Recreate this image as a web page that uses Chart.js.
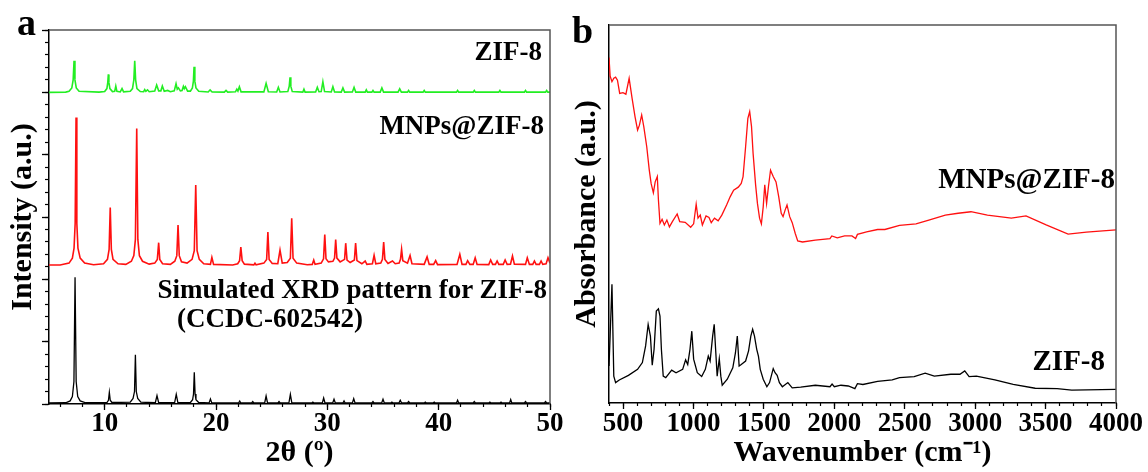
<!DOCTYPE html>
<html><head><meta charset="utf-8">
<script src="https://cdn.jsdelivr.net/npm/chart.js@4.4.1/dist/chart.umd.min.js"></script>
<style>
html,body{margin:0;padding:0;background:#fff;width:1148px;height:472px;overflow:hidden;}
#wrap{position:relative;width:1148px;height:472px;}
canvas{position:absolute;top:0;}
.lbl{position:absolute;font-family:"Liberation Serif","Times New Roman",serif;font-weight:bold;color:#000;line-height:1;white-space:nowrap;}
</style></head>
<body><div id="wrap">
<canvas id="ca" width="580" height="472" style="left:0;width:580px;height:472px"></canvas>
<canvas id="cb" width="588" height="472" style="left:560px;width:588px;height:472px"></canvas>
<div class="lbl" style="left:17px;top:3px;font-size:38px">a</div>
<div class="lbl" style="left:572px;top:11px;font-size:38px">b</div>
<div class="lbl" style="right:606px;top:38px;font-size:27px">ZIF-8</div>
<div class="lbl" style="right:604px;top:112px;font-size:27px">MNPs@ZIF-8</div>
<div class="lbl" style="right:601px;top:276px;font-size:27px">Simulated XRD pattern for ZIF-8</div>
<div class="lbl" style="left:177px;top:305px;font-size:27px">(CCDC-602542)</div>
<div class="lbl" style="right:33px;top:164px;font-size:29px">MNPs@ZIF-8</div>
<div class="lbl" style="right:43px;top:346px;font-size:29px">ZIF-8</div>
</div>
<script>
// ---------- Panel a: XRD ----------
const xrdZif8 = [
[5.0,25.0],[6.5,25.02],[6.8,25.08],[7.05,25.35],[7.17,26.0],[7.25,27.53],[7.33,26.0],[7.45,25.35],[7.7,25.08],
[9.5,25.02],[10.0,25.06],[10.2,25.3],[10.28,25.8],[10.33,26.44],[10.38,25.8],[10.47,25.3],[10.7,25.06],
[10.9,25.08],[11.0,25.5],[11.1,25.08],[11.4,25.03],[11.56,25.3],[11.7,25.04],
[12.3,25.08],[12.5,25.3],[12.62,26.0],[12.7,27.53],[12.78,26.0],[12.9,25.3],[13.2,25.06],
[13.5,25.05],[13.6,25.22],[13.7,25.08],[13.85,25.2],[14.0,25.05],
[14.5,25.1],[14.67,25.58],[14.85,25.12],[15.05,25.12],[15.18,25.5],[15.35,25.08],[15.66,25.15],[15.9,25.05],
[16.25,25.12],[16.41,25.69],[16.52,25.25],[16.62,25.36],[16.8,25.12],[16.95,25.15],[17.07,25.48],[17.15,25.3],[17.25,25.45],[17.45,25.1],
[17.7,25.1],[17.88,25.35],[17.97,25.9],[18.03,27.05],[18.1,25.9],[18.2,25.35],[18.45,25.08],
[19.3,25.03],[19.47,25.2],[19.65,25.03],[20.75,25.02],[20.9,25.15],[21.05,25.02],[21.75,25.04],[21.87,25.25],[21.97,25.1],[22.1,25.45],[22.25,25.04],
[24.3,25.04],[24.5,25.72],[24.7,25.05],[25.45,25.03],[25.6,25.4],[25.75,25.03],
[26.45,25.06],[26.58,25.5],[26.65,26.2],[26.72,25.5],[26.85,25.06],
[27.8,25.02],[27.9,25.25],[28.0,25.02],[28.95,25.03],[29.1,25.4],[29.25,25.05],[29.45,25.06],[29.6,25.85],[29.75,25.06],
[30.35,25.03],[30.5,25.45],[30.65,25.03],[31.25,25.02],[31.4,25.35],[31.55,25.02],[32.25,25.03],[32.4,25.4],[32.55,25.02],
[33.4,25.02],[33.5,25.2],[33.6,25.02],[34.0,25.02],[34.1,25.15],[34.2,25.02],[34.75,25.02],[34.9,25.35],[35.05,25.02],
[36.35,25.02],[36.5,25.28],[36.65,25.02],[37.2,25.02],[37.3,25.15],[37.4,25.02],[38.6,25.02],[38.7,25.15],[38.8,25.02],
[41.6,25.02],[41.7,25.15],[41.8,25.02],[43.1,25.02],[43.2,25.15],[43.3,25.02],[45.4,25.02],[45.5,25.15],[45.6,25.02],
[47.7,25.02],[47.8,25.15],[47.9,25.02],[49.6,25.02],[49.7,25.15],[49.8,25.02],[50.0,25.02]
];
const xrdMnps = [
[5.0,11.15],[6.0,11.15],[6.8,11.3],[7.1,11.7],[7.25,12.5],[7.35,14.5],[7.43,22.99],[7.5,14.5],[7.6,12.5],[7.8,11.7],[8.2,11.3],[9.0,11.17],
[9.9,11.25],[10.25,11.6],[10.4,12.4],[10.5,15.77],[10.6,12.4],[10.75,11.6],[11.2,11.25],
[11.9,11.2],[12.4,11.45],[12.62,11.9],[12.76,13.2],[12.88,22.1],[12.98,13.2],[13.12,11.9],[13.4,11.45],[14.0,11.22],
[14.5,11.3],[14.73,11.6],[14.85,12.94],[14.95,11.6],[15.2,11.25],
[15.9,11.2],[16.3,11.45],[16.48,11.9],[16.59,14.35],[16.7,11.9],[16.9,11.4],
[17.4,11.3],[17.85,11.6],[18.05,12.3],[18.18,17.56],[18.3,12.3],[18.5,11.6],[18.9,11.25],
[19.5,11.2],[19.63,11.76],[19.78,11.2],[21.5,11.15],
[21.95,11.25],[22.12,11.5],[22.23,12.59],[22.35,11.5],[22.55,11.22],
[23.4,11.16],[23.5,11.3],[23.6,11.16],
[24.3,11.3],[24.55,11.6],[24.66,13.8],[24.77,11.6],[25.05,11.28],
[25.55,11.25],[25.75,12.35],[25.95,11.3],
[26.4,11.35],[26.68,11.7],[26.8,14.9],[26.92,11.7],[27.25,11.3],
[28.2,11.17],[28.65,11.2],[28.78,11.55],[28.9,11.2],
[29.45,11.3],[29.66,11.65],[29.77,13.6],[29.88,11.65],[30.1,11.4],
[30.5,11.45],[30.65,11.7],[30.75,13.2],[30.86,11.7],[31.15,11.4],
[31.55,11.6],[31.65,12.9],[31.77,11.55],[32.05,11.35],
[32.43,11.55],[32.54,12.9],[32.66,11.5],[33.1,11.25],
[33.4,11.47],[33.55,11.2],[34.05,11.25],[34.2,11.92],[34.35,11.25],
[34.8,11.3],[34.95,11.6],[35.06,13.0],[35.17,11.6],[35.45,11.28],[35.85,11.47],[36.1,11.25],
[36.45,11.3],[36.57,11.6],[36.67,12.4],[36.78,11.5],[37.2,11.3],[37.43,11.92],[37.6,11.25],
[38.7,11.2],[38.96,11.8],[39.15,11.2],[39.55,11.2],[39.73,11.5],[39.9,11.18],
[41.65,11.2],[41.9,12.0],[42.1,11.2],[42.45,11.2],[42.6,11.5],[42.8,11.2],[43.1,11.2],[43.28,11.73],[43.45,11.2],
[44.5,11.18],[44.67,11.55],[44.85,11.2],[45.1,11.2],[45.25,11.47],[45.4,11.2],[45.8,11.2],[45.97,11.55],[46.15,11.2],
[46.45,11.22],[46.63,11.87],[46.8,11.22],[47.8,11.2],[47.96,11.73],[48.15,11.2],[48.45,11.2],[48.6,11.47],[48.75,11.2],
[49.05,11.2],[49.2,11.47],[49.35,11.2],[49.65,11.25],[49.82,11.73],[50.0,11.3]
];
const xrdSim = [
[5.0,0.08],[6.5,0.1],[6.9,0.25],[7.1,0.6],[7.24,1.8],[7.34,10.16],[7.44,1.8],[7.58,0.6],[7.8,0.25],[8.3,0.1],
[10.2,0.12],[10.34,0.3],[10.42,0.94],[10.5,0.3],[10.65,0.12],
[12.3,0.15],[12.55,0.45],[12.68,1.0],[12.76,3.95],[12.84,1.0],[12.97,0.45],[13.25,0.15],
[14.55,0.1],[14.7,0.67],[14.85,0.1],[16.28,0.1],[16.43,0.78],[16.58,0.1],
[17.7,0.12],[17.9,0.35],[17.98,0.8],[18.05,2.54],[18.12,0.8],[18.2,0.35],[18.45,0.12],
[19.38,0.09],[19.5,0.4],[19.62,0.09],[22.03,0.08],[22.13,0.24],[22.23,0.08],[23.2,0.08],[23.3,0.2],[23.4,0.08],
[24.37,0.08],[24.5,0.64],[24.63,0.08],[25.56,0.08],[25.66,0.2],[25.76,0.08],[26.55,0.1],[26.68,0.78],[26.81,0.1],
[28.6,0.08],[28.7,0.15],[28.8,0.08],[29.55,0.08],[29.67,0.48],[29.79,0.08],[30.48,0.08],[30.6,0.38],[30.72,0.08],
[31.4,0.08],[31.5,0.25],[31.6,0.08],[32.25,0.08],[32.37,0.43],[32.49,0.08],[34.0,0.08],[34.1,0.2],[34.2,0.08],
[34.88,0.08],[35.0,0.38],[35.12,0.08],[35.7,0.08],[35.8,0.15],[35.9,0.08],[36.43,0.08],[36.55,0.3],[36.67,0.08],
[37.2,0.08],[37.3,0.2],[37.4,0.08],[38.7,0.08],[38.8,0.15],[38.9,0.08],[39.5,0.08],[39.6,0.15],[39.7,0.08],
[41.6,0.08],[41.7,0.3],[41.8,0.08],[43.1,0.08],[43.2,0.2],[43.3,0.08],[44.5,0.08],[44.6,0.15],[44.7,0.08],
[45.5,0.08],[45.6,0.15],[45.7,0.08],[46.37,0.08],[46.47,0.35],[46.57,0.08],[47.7,0.08],[47.8,0.2],[47.9,0.08],
[49.5,0.08],[49.6,0.2],[49.7,0.08],[50.0,0.08]
];
const xMajorA = [10, 20, 30, 40, 50];
const xMinorA = [6, 8, 10, 12, 14, 16, 18, 20, 22, 24, 26, 28, 30, 32, 34, 36, 38, 40, 42, 44, 46, 48, 50];
const yMajorA = [0, 5, 10, 15, 20, 25, 30];
const yMinorA = [0,1,2,3,4,5,6,7,8,9,10,11,12,13,14,15,16,17,18,19,20,21,22,23,24,25,26,27,28,29,30];

// ---------- Panel b: FTIR ----------
const ftirMnps = [
[400,91.4],[408,86.5],[421,85.0],[434,85.9],[447,86.2],[460,85.4],[476,81.9],[499,82.1],[520,81.7],[543,85.9],[564,80.6],[585,75.7],[603,72.2],[616,73.5],[632,76.2],[647,73.1],[668,67.8],[686,61.6],[699,58.1],[715,55.6],[728,58.5],[743,59.9],[751,53.7],[762,47.5],[777,48.6],[793,47.1],[811,48.4],[829,46.6],[850,48.0],[884,50.0],[902,48.0],[941,47.8],[980,46.5],[1001,47.4],[1019,52.6],[1032,48.9],[1048,49.7],[1063,47.1],[1089,49.5],[1110,49.1],[1126,47.7],[1149,48.9],[1175,48.2],[1201,49.7],[1235,52.4],[1261,54.6],[1285,56.3],[1318,57.1],[1339,58.1],[1352,59.9],[1370,67.8],[1386,75.3],[1399,77.1],[1412,73.1],[1423,66.1],[1441,57.7],[1454,52.8],[1469,48.9],[1482,47.4],[1495,51.9],[1506,57.7],[1519,52.8],[1532,57.2],[1547,61.6],[1566,59.9],[1586,58.5],[1605,54.6],[1623,50.2],[1636,49.3],[1651,51.1],[1664,52.4],[1683,49.3],[1701,47.7],[1722,44.9],[1740,42.9],[1774,42.6],[1865,43.1],[1969,43.5],[1982,44.2],[2021,43.7],[2073,44.2],[2125,44.2],[2151,43.5],[2164,44.6],[2229,45.3],[2307,45.9],[2359,45.9],[2463,47.0],[2580,47.4],[2671,48.4],[2788,49.7],[2879,50.2],[2970,50.6],[3087,49.7],[3257,48.9],[3361,49.5],[3504,47.1],[3660,44.7],[3790,45.2],[4000,45.8]
];
const ftirZif8 = [
[400,9.8],[408,17.7],[421,31.4],[434,7.1],[447,5.4],[473,6.1],[538,7.3],[603,8.9],[637,10.7],[660,15.1],[678,20.8],[694,17.7],[707,10.0],[720,14.2],[736,24.3],[751,24.9],[762,23.0],[772,14.2],[785,7.1],[803,6.7],[845,8.7],[876,8.0],[923,8.9],[944,11.4],[959,10.2],[975,14.2],[988,19.0],[1001,11.6],[1027,8.0],[1058,7.0],[1084,8.9],[1105,12.4],[1118,11.1],[1136,17.7],[1147,20.8],[1157,14.2],[1168,7.1],[1183,11.7],[1194,7.1],[1204,4.7],[1240,6.3],[1279,9.3],[1298,13.3],[1311,17.7],[1324,9.8],[1339,10.2],[1370,11.1],[1391,13.8],[1407,17.7],[1420,19.5],[1433,17.7],[1449,14.2],[1461,12.4],[1474,8.9],[1495,6.3],[1521,4.3],[1540,5.4],[1566,9.1],[1579,8.0],[1594,7.3],[1610,5.4],[1631,4.3],[1670,5.4],[1701,4.0],[1761,4.2],[1865,4.7],[1969,4.3],[1984,5.0],[2000,4.3],[2047,4.7],[2099,4.5],[2146,3.8],[2164,5.1],[2203,4.9],[2307,5.7],[2411,6.1],[2463,6.7],[2567,7.0],[2645,7.9],[2710,7.1],[2827,7.6],[2892,7.6],[2926,8.5],[2957,7.0],[3009,7.1],[3140,6.1],[3270,4.9],[3426,3.9],[3582,3.8],[3686,3.4],[4000,3.6]
];
const xMajorB = [500, 1000, 1500, 2000, 2500, 3000, 3500, 4000];
const xMinorB = [400,500,600,700,800,900,1000,1100,1200,1300,1400,1500,1600,1700,1800,1900,2000,2100,2200,2300,2400,2500,2600,2700,2800,2900,3000,3100,3200,3300,3400,3500,3600,3700,3800,3900,4000];

// ---------- shared style ----------
const FAM = '"Liberation Serif", "Times New Roman", serif';
const tickFont = {family: FAM, weight: 'bold', size: 27, lineHeight: 1};
const titleFont = {family: FAM, weight: 'bold', size: 30, lineHeight: 1};
const setTicks = arr => (s => { s.ticks = arr.map(v => ({value: v})); });

const framePlugin = {
  id: 'frame',
  afterDraw(chart) {
    const {ctx, chartArea: {left, top, right, bottom}} = chart;
    ctx.save();
    ctx.strokeStyle = '#555';
    ctx.lineWidth = 1.5;
    ctx.beginPath();
    ctx.moveTo(left, top);
    ctx.lineTo(right, top);
    ctx.lineTo(right, bottom);
    ctx.stroke();
    ctx.restore();
  }
};

function lineDS(data, color, width) {
  return {data, borderColor: color, borderWidth: width, pointRadius: 0, tension: 0, fill: false};
}

function makeChart(id, datasets, o) {
  return new Chart(document.getElementById(id), {
    type: 'line',
    data: {datasets},
    options: {
      responsive: false, animation: false, devicePixelRatio: 1,
      layout: {padding: {top: o.padTop, right: o.padRight, left: 0, bottom: 0}},
      plugins: {legend: {display: false}, tooltip: {enabled: false}},
      scales: {
        x: {
          type: 'linear', position: 'bottom', weight: 1, min: o.xmin, max: o.xmax,
          afterBuildTicks: setTicks(o.xMajor),
          ticks: {font: tickFont, color: '#000', padding: o.tickPad, maxRotation: 0, autoSkip: false, callback: v => String(v)},
          grid: {drawOnChartArea: false, tickLength: 6, tickColor: '#000', tickWidth: 1.3},
          border: {color: '#000', width: 1.5},
          title: {display: true, text: o.xTitle, font: titleFont, color: '#000', padding: {top: 0, bottom: 4}},
          afterFit: s => { s.height = o.xHeight; }
        },
        x2: {
          type: 'linear', position: 'bottom', weight: 0, min: o.xmin, max: o.xmax,
          afterBuildTicks: setTicks(o.xMinor),
          ticks: {display: false},
          grid: {drawOnChartArea: false, tickLength: 3, tickColor: '#000', tickWidth: 1.2},
          border: {display: false},
          afterFit: s => { s.height = 0; }
        },
        y: {
          type: 'linear', position: 'left', weight: 1, min: o.ymin, max: o.ymax,
          afterBuildTicks: setTicks(o.yMajor),
          ticks: {display: false},
          grid: {display: o.yMajor.length > 0, drawOnChartArea: false, tickLength: 7, tickColor: '#000', tickWidth: 1.3},
          border: {color: '#000', width: 1.5},
          title: {display: true, text: o.yTitle, font: titleFont, color: '#000', padding: {top: o.yTitlePad, bottom: 0}},
          afterFit: s => { s.width = o.yWidth; }
        },
        y2: {
          type: 'linear', position: 'left', weight: 0, min: o.ymin, max: o.ymax,
          afterBuildTicks: setTicks(o.yMinor),
          ticks: {display: false},
          grid: {display: o.yMinor.length > 0, drawOnChartArea: false, tickLength: 4, tickColor: '#000', tickWidth: 1.2},
          border: {display: false},
          afterFit: s => { s.width = 0; }
        }
      }
    },
    plugins: [framePlugin]
  });
}

makeChart('ca', [
  lineDS(xrdZif8, '#22ee22', 1.6),
  lineDS(xrdMnps, '#ff1010', 1.6),
  lineDS(xrdSim, '#000000', 1.3)
], {
  padTop: 30, padRight: 30, xmin: 5, xmax: 50, ymin: 0, ymax: 30,
  xMajor: xMajorA, xMinor: xMinorA, yMajor: yMajorA, yMinor: yMinorA,
  xTitle: '2θ (º)', yTitle: 'Intensity (a.u.)', xHeight: 68, yWidth: 49, tickPad: 1, yTitlePad: 8
});

makeChart('cb', [
  lineDS(ftirMnps, '#ff1010', 1.3),
  lineDS(ftirZif8, '#000000', 1.3)
], {
  padTop: 25, padRight: 32, xmin: 400, xmax: 4000, ymin: 0, ymax: 100,
  xMajor: xMajorB, xMinor: xMinorB, yMajor: [], yMinor: [],
  xTitle: 'Wavenumber (cm⁻¹)', yTitle: 'Absorbance (a.u.)', xHeight: 69, yWidth: 49, tickPad: 2, yTitlePad: 12
});
</script>
</body></html>
